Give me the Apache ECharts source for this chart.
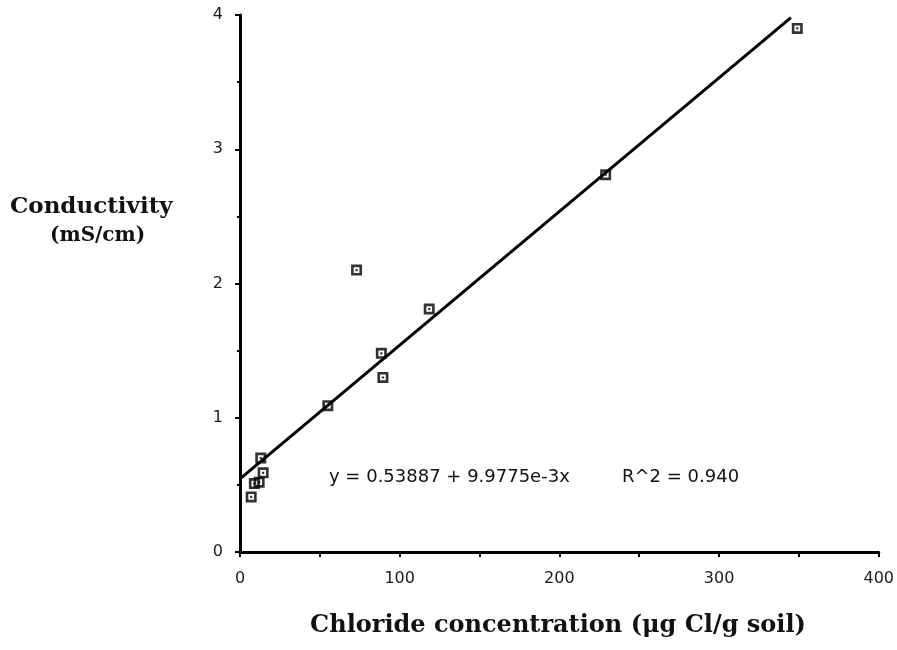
<!DOCTYPE html>
<html>
<head>
<meta charset="utf-8">
<script src="https://cdn.jsdelivr.net/npm/echarts@6/dist/echarts.min.js"></script>
<style>html,body{margin:0;padding:0;background:#fff}#c{width:897px;height:650px}</style>
</head>
<body>
<div id="c"></div>
<script>
const chlorideX = [7, 9, 12, 13, 14.5, 55, 73, 88.5, 89.5, 118.5, 229, 349];
const conductivityY = [0.41, 0.51, 0.52, 0.70, 0.59, 1.09, 2.10, 1.48, 1.30, 1.81, 2.81, 3.90];
const fitX = [0, 345];
const fitY = [0.545, 3.98];
const xTicks = [0, 100, 200, 300, 400];
const yTicks = [0, 1, 2, 3, 4];
const yTitle = ['Conductivity', '(mS/cm)'];
const xTitle = 'Chloride concentration (\u03bcg Cl/g soil)';
const eqText = ['y = 0.53887 + 9.9775e-3x', 'R^2 = 0.940'];

const chart = echarts.init(document.getElementById('c'));
const pts = chlorideX.map((x, i) => [x, conductivityY[i]]);
const fit = fitX.map((x, i) => [x, fitY[i]]);
const labelFont = {fontFamily: 'DejaVu Sans', fontSize: 16, color: '#1a1a1a'};
const marker = 'path://M0,0L10,0L10,10L0,10Z M2.4,2.4L2.4,7.6L7.6,7.6L7.6,2.4Z M4,4L6,4L6,6L4,6Z';
chart.setOption({
  animation: false,
  backgroundColor: '#fff',
  grid: {left: 240, right: 17, top: 15, bottom: 98, containLabel: false},
  xAxis: {
    type: 'value', min: xTicks[0], max: xTicks[xTicks.length - 1], interval: 100,
    axisLine: {show: true, lineStyle: {color: '#000', width: 3}},
    axisTick: {show: true, length: 5, lineStyle: {color: '#000', width: 2}},
    minorTick: {show: true, splitNumber: 2, length: 5, lineStyle: {color: '#000', width: 2}},
    splitLine: {show: false},
    axisLabel: Object.assign({margin: 19}, labelFont)
  },
  yAxis: {
    type: 'value', min: yTicks[0], max: yTicks[yTicks.length - 1], interval: 1,
    axisLine: {show: true, lineStyle: {color: '#000', width: 3}},
    axisTick: {show: true, length: 5, lineStyle: {color: '#000', width: 2}},
    minorTick: {show: true, splitNumber: 2, length: 3, lineStyle: {color: '#000', width: 2}},
    splitLine: {show: false},
    axisLabel: Object.assign({margin: 17}, labelFont)
  },
  graphic: [
    {type: 'text', left: 10, top: 196, style: {text: yTitle[0], font: 'bold 23px "DejaVu Serif"', fill: '#111'}},
    {type: 'text', left: 50, top: 226, style: {text: yTitle[1], font: 'bold 20px "DejaVu Serif"', fill: '#111'}},
    {type: 'text', x: 558, y: 614, style: {text: xTitle, font: 'bold 24px "DejaVu Serif"', fill: '#111', textAlign: 'center'}},
    {type: 'text', left: 329, top: 468, style: {text: eqText[0], font: '18px "DejaVu Sans"', fill: '#111'}},
    {type: 'text', left: 622, top: 468, style: {text: eqText[1], font: '18px "DejaVu Sans"', fill: '#111'}}
  ],
  series: [
    {type: 'line', data: fit, symbol: 'none', lineStyle: {color: '#000', width: 3}, z: 2},
    {type: 'scatter', data: pts, symbol: marker, symbolSize: 11,
     itemStyle: {color: '#000'}, z: 3}
  ]
});
</script>
</body>
</html>
